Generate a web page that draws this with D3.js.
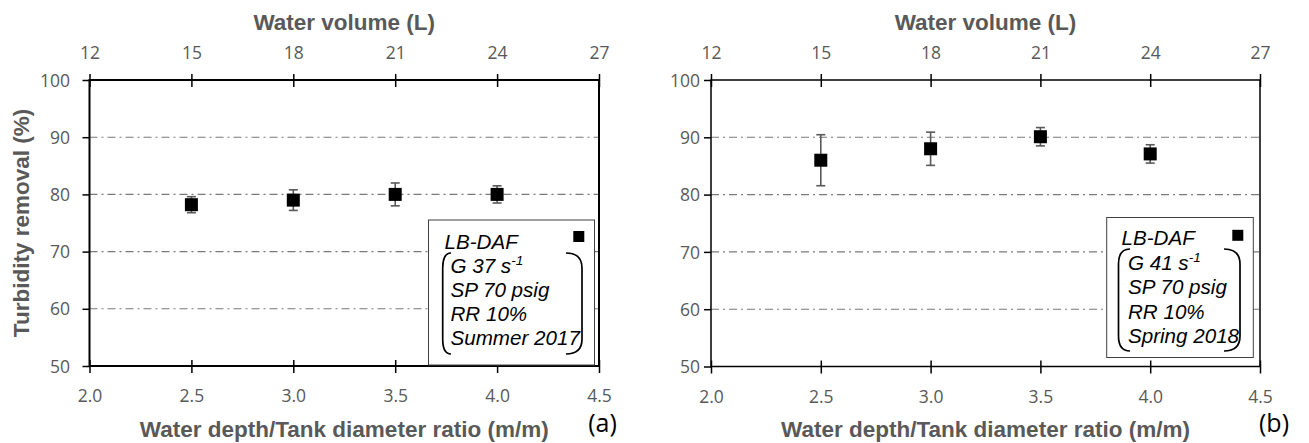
<!DOCTYPE html>
<html>
<head>
<meta charset="utf-8">
<script src="https://cdn.jsdelivr.net/npm/d3@7"></script>
<style>
  html, body { margin: 0; padding: 0; background: #fff; }
  svg { display: block; }
</style>
</head>
<body>
<svg id="chart" width="1309" height="443"></svg>
<script>
// ---- data ----
const ratios = [2.5, 3.0, 3.5, 4.0];
const removalA = [78.2, 79.0, 80.0, 80.0];
const errorA = [1.4, 1.8, 2.0, 1.5];
const removalB = [86.0, 88.0, 90.1, 87.1];
const errorB = [4.45, 2.9, 1.6, 1.6];
const ratioTicks = [2.0, 2.5, 3.0, 3.5, 4.0, 4.5];
const volumeTicks = [12, 15, 18, 21, 24, 27];
const removalTicks = [50, 60, 70, 80, 90, 100];
const gridValues = [60, 70, 80, 90];
const legendA = ["LB-DAF", "G 37 s", "SP 70 psig", "RR 10%", "Summer 2017"];
const legendB = ["LB-DAF", "G 41 s", "SP 70 psig", "RR 10%", "Spring 2018"];

const svg = d3.select("#chart");
const GRAY = "#595959";
const tickFont = "'Open Sans', sans-serif";
const titleFont = "'Liberation Sans', Arial, sans-serif";

const panels = [
  { x0: 89.5, x1: 599, y0: 80, y1: 366, sw: 2, labelRight: 70,
    values: removalA, errors: errorA, legend: legendA,
    box: [428.5, 220, 594.5, 365], textX0: 444.5, textX: 450.5,
    baselines: [249, 273, 297, 321, 345],
    marker: [578.8, 236.5],
    brL: [451, 442.7], brR: [566, 582], brY: [253, 354],
    tag: "(a)", tagX: 602.5, tagY: 432, yTitle: true },
  { x0: 711, x1: 1260, y0: 80, y1: 366.5, sw: 1.5, labelRight: 700,
    values: removalB, errors: errorB, legend: legendB,
    box: [1106.7, 217.5, 1253.3, 357.5], textX0: 1121.5, textX: 1128,
    baselines: [245, 269.5, 294, 318.5, 343],
    marker: [1237.8, 235.3],
    brL: [1130, 1118.5], brR: [1224, 1240], brY: [249, 351],
    tag: "(b)", tagX: 1274, tagY: 432, yTitle: false }
];

panels.forEach(p => {
  const g = svg.append("g");
  const x = d3.scaleLinear().domain([2.0, 4.5]).range([p.x0, p.x1]);
  const xv = d3.scaleLinear().domain([12, 27]).range([p.x0, p.x1]);
  const y = d3.scaleLinear().domain([50, 100]).range([p.y1, p.y0]);

  // gridlines
  g.selectAll(".grid").data(gridValues).enter().append("line")
    .attr("x1", p.x0).attr("x2", p.x1)
    .attr("y1", d => y(d)).attr("y2", d => y(d))
    .attr("stroke", "#7a7a7a").attr("stroke-width", 1.1)
    .attr("stroke-dasharray", "8,4,2,4");

  // axes via d3
  const left = d3.axisLeft(y).tickValues(removalTicks).tickSize(7).tickFormat(d3.format("d"));
  const bottom = d3.axisBottom(x).tickValues(ratioTicks).tickSizeInner(7).tickSizeOuter(0).tickFormat(d3.format(".1f"));
  const top = d3.axisTop(xv).tickValues(volumeTicks).tickSizeInner(6).tickSizeOuter(0).tickFormat(d3.format("d"));

  function styleAxis(sel) {
    sel.select(".domain").remove();
    sel.selectAll(".tick line").attr("stroke", "#000").attr("stroke-width", 1.5);
    sel.selectAll(".tick text").attr("fill", GRAY)
      .style("font-family", tickFont).style("font-size", "17.5px");
  }

  const gl = g.append("g").attr("transform", `translate(${p.x0},0)`).call(left).call(styleAxis);
  gl.selectAll(".tick text").attr("x", p.labelRight - p.x0).attr("dy", "0.35em");

  const gb = g.append("g").attr("transform", `translate(0,${p.y1})`).call(bottom).call(styleAxis);
  gb.selectAll(".tick line").attr("y1", -6).attr("y2", 7);
  gb.selectAll(".tick text").attr("y", 36).attr("dy", "0");

  const gt = g.append("g").attr("transform", `translate(0,${p.y0})`).call(top).call(styleAxis);
  gt.selectAll(".tick line").attr("y1", 7).attr("y2", -6);
  gt.selectAll(".tick text").attr("y", -21).attr("dy", "0");

  // frame
  g.append("rect").attr("x", p.x0).attr("y", p.y0)
    .attr("width", p.x1 - p.x0).attr("height", p.y1 - p.y0)
    .attr("fill", "none").attr("stroke", "#000").attr("stroke-width", p.sw);

  // legend box
  const [bx0, by0, bx1, by1] = p.box;
  g.append("rect").attr("x", bx0).attr("y", by0)
    .attr("width", bx1 - bx0).attr("height", by1 - by0)
    .attr("fill", "#fff").attr("stroke", "#404040").attr("stroke-width", 1);

  const lt = g.append("g").style("font-family", titleFont).style("font-style", "italic")
    .style("font-size", "20.6px").attr("fill", "#000");
  p.legend.forEach((t, i) => {
    const txt = lt.append("text").attr("x", i === 0 ? p.textX0 : p.textX).attr("y", p.baselines[i]).text(t);
    if (i === 1) {
      txt.append("tspan").attr("dy", -8).style("font-size", "13.5px").text("-1");
    }
  });
  g.append("rect").attr("x", p.marker[0] - 5.5).attr("y", p.marker[1] - 5.5)
    .attr("width", 11).attr("height", 11).attr("fill", "#000");

  // brackets
  const r = 15;
  const [yt, yb] = p.brY;
  const bl = `M${p.brL[0]},${yt} Q${p.brL[1]},${yt} ${p.brL[1]},${yt + r} L${p.brL[1]},${yb - r} Q${p.brL[1]},${yb} ${p.brL[0]},${yb}`;
  const br = `M${p.brR[0]},${yt} Q${p.brR[1]},${yt} ${p.brR[1]},${yt + r} L${p.brR[1]},${yb - r} Q${p.brR[1]},${yb} ${p.brR[0]},${yb}`;
  g.append("path").attr("d", bl).attr("fill", "none").attr("stroke", "#000").attr("stroke-width", 1.7);
  g.append("path").attr("d", br).attr("fill", "none").attr("stroke", "#000").attr("stroke-width", 1.7);

  // error bars
  const pts = ratios.map((d, i) => ({ x: d, y: p.values[i], e: p.errors[i] }));
  const eb = g.append("g").attr("stroke", GRAY).attr("stroke-width", 1.6);
  pts.forEach(d => {
    eb.append("line").attr("x1", x(d.x)).attr("x2", x(d.x)).attr("y1", y(d.y + d.e)).attr("y2", y(d.y - d.e));
    eb.append("line").attr("x1", x(d.x) - 4.5).attr("x2", x(d.x) + 4.5).attr("y1", y(d.y + d.e)).attr("y2", y(d.y + d.e));
    eb.append("line").attr("x1", x(d.x) - 4.5).attr("x2", x(d.x) + 4.5).attr("y1", y(d.y - d.e)).attr("y2", y(d.y - d.e));
  });
  // markers
  g.selectAll(".pt").data(pts).enter().append("rect")
    .attr("x", d => x(d.x) - 6.5).attr("y", d => y(d.y) - 6.5)
    .attr("width", 13).attr("height", 13).attr("fill", "#000");

  // titles
  const cx = (p.x0 + p.x1) / 2;
  g.append("text").attr("x", cx).attr("y", 29.5).attr("text-anchor", "middle")
    .style("font-family", titleFont).style("font-weight", "bold").style("font-size", "22.5px")
    .attr("fill", GRAY).text("Water volume (L)");
  g.append("text").attr("x", cx).attr("y", 436.5).attr("text-anchor", "middle")
    .style("font-family", titleFont).style("font-weight", "bold").style("font-size", "22.5px")
    .attr("fill", GRAY).text("Water depth/Tank diameter ratio (m/m)");
  if (p.yTitle) {
    g.append("text").attr("transform", `translate(29,${(p.y0 + p.y1) / 2}) rotate(-90)`)
      .attr("text-anchor", "middle")
      .style("font-family", titleFont).style("font-weight", "bold").style("font-size", "22.5px")
      .attr("fill", GRAY).text("Turbidity removal (%)");
  }
  g.append("text").attr("x", p.tagX).attr("y", p.tagY).attr("text-anchor", "middle")
    .style("font-family", tickFont).style("font-size", "25px")
    .attr("fill", "#000").text(p.tag);
});
</script>
</body>
</html>
